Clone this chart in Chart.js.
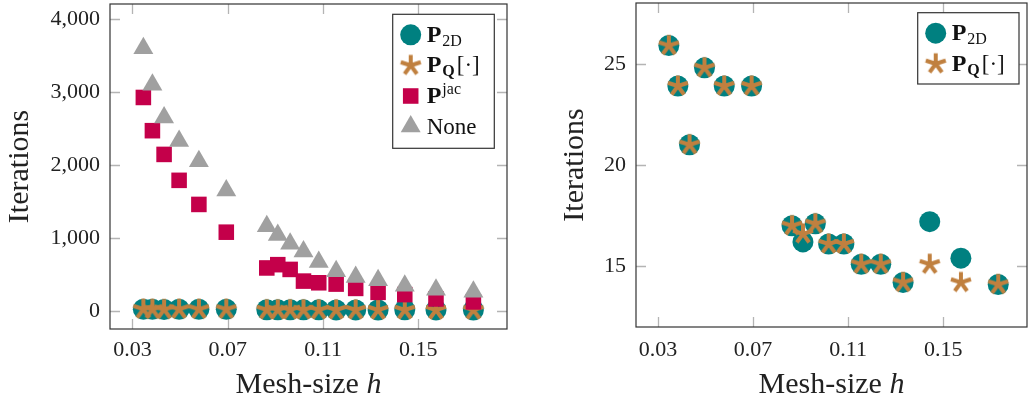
<!DOCTYPE html>
<html><head><meta charset="utf-8">
<script src="https://cdn.jsdelivr.net/npm/chart.js@4"></script>
<style>
html,body{margin:0;padding:0;background:#fff;}
#wrap{position:relative;width:1028px;height:401px;overflow:hidden;}
canvas{position:absolute;top:0;}
#c1{left:0}
#c2{left:514px}
</style></head><body>
<div id="wrap"><canvas id="c1" width="514" height="401"></canvas><canvas id="c2" width="514" height="401"></canvas></div>
<script>
// ---- data ----
const meshSize = [0.0346, 0.0384, 0.0433, 0.0496, 0.0579, 0.0694, 0.0864, 0.0910, 0.0962, 0.1018, 0.1082, 0.1155, 0.1237, 0.1331, 0.1443, 0.1574, 0.1731];
const itP2D  = [25.9, 23.9, 21.0, 24.8, 23.9, 23.9, 17.0, 16.2, 17.1, 16.1, 16.1, 15.1, 15.1, 14.2, 17.2, 15.4, 14.1];
const itPQ   = [25.9, 23.9, 21.0, 24.8, 23.9, 23.9, 17.0, 16.6, 17.1, 16.1, 16.1, 15.1, 15.1, 14.2, 15.1, 14.2, 14.1];
const itPjac = [2925, 2470, 2145, 1790, 1460, 1080, 590, 635, 570, 410, 387, 369, 310, 256, 225, 165, 125];
const itNone = [3600, 3100, 2650, 2330, 2050, 1650, 1160, 1040, 920, 815, 670, 545, 465, 420, 345, 290, 265];
const xTickValues = [0.03, 0.07, 0.11, 0.15];
const yTicksLeft = [0, 1000, 2000, 3000, 4000];
const yTicksRight = [15, 20, 25];
const xTitle = 'Mesh-size ';
const xTitleVar = 'h';
const yTitle = 'Iterations';

// ---- styles ----
const FONT = '"Liberation Serif", "Times New Roman", serif';
const TEAL = '#008080', STARC = '#C0803F', JAC = '#C4004A', GRAY = '#A0A0A0';
Chart.defaults.font.family = FONT;
Chart.defaults.color = '#222';

function makeStar(color){
  const c = document.createElement('canvas'); c.width = 26; c.height = 26;
  const g = c.getContext('2d'); g.strokeStyle = color; g.lineWidth = 4; g.lineCap = 'butt';
  g.beginPath();
  for (let k = 0; k < 5; k++) {
    const a = -Math.PI/2 + k*2*Math.PI/5;
    g.moveTo(13, 13); g.lineTo(13 + 10.5*Math.cos(a), 13 + 10.5*Math.sin(a));
  }
  g.stroke();
  return c;
}
const starImg = makeStar(STARC);
const pts = ys => meshSize.map((h, i) => ({x: h, y: ys[i]}));

const dsP2D  = () => ({label:'P2D', data: pts(itP2D), pointStyle:'circle', pointRadius:10.5, backgroundColor:TEAL, borderWidth:0, order:4, clip:false});
const dsPQ   = () => ({label:'PQ', data: pts(itPQ), pointStyle:starImg, pointRadius:10, backgroundColor:STARC, borderWidth:0, order:3, clip:false});
const dsPjac = () => ({label:'Pjac', data: pts(itPjac), pointStyle:'rect', pointRadius:11, backgroundColor:JAC, borderWidth:0, order:2, clip:false});
const dsNone = () => ({label:'None', data: pts(itNone), pointStyle:'triangle', pointRadius:11.5, backgroundColor:GRAY, borderWidth:0, order:1, clip:false});

// frame + inward tick marks
const framePlugin = {
  id: 'frame',
  beforeDatasetsDraw(chart){
    const {ctx, chartArea: a, scales: {x, y}} = chart;
    ctx.save(); ctx.strokeStyle = '#b4b4b4'; ctx.lineWidth = 1.3; ctx.beginPath();
    x.ticks.forEach(t => { const p = Math.round(x.getPixelForValue(t.value)) + 0.5;
      ctx.moveTo(p, a.bottom); ctx.lineTo(p, a.bottom - 10); ctx.moveTo(p, a.top); ctx.lineTo(p, a.top + 10); });
    y.ticks.forEach(t => { const p = Math.round(y.getPixelForValue(t.value)) + 0.5;
      ctx.moveTo(a.left, p); ctx.lineTo(a.left + 10, p); ctx.moveTo(a.right, p); ctx.lineTo(a.right - 10, p); });
    ctx.stroke(); ctx.restore();
  },
  afterDatasetsDraw(chart){
    const {ctx, chartArea: a} = chart;
    ctx.save(); ctx.strokeStyle = '#333'; ctx.lineWidth = 1.2;
    ctx.strokeRect(a.left, a.top, a.right - a.left, a.bottom - a.top);
    ctx.restore();
  }
};

// x-axis title with italic variable
const xTitlePlugin = {
  id: 'xTitleTex',
  afterDraw(chart){
    const {ctx, chartArea: a} = chart;
    ctx.save(); ctx.fillStyle = '#222'; ctx.textBaseline = 'alphabetic';
    ctx.font = '30px ' + FONT; const w1 = ctx.measureText(xTitle).width;
    ctx.font = 'italic 30px ' + FONT; const w2 = ctx.measureText(xTitleVar).width;
    const x0 = (a.left + a.right)/2 - (w1 + w2)/2, yb = chart.height - 8;
    ctx.font = '30px ' + FONT; ctx.fillText(xTitle, x0, yb);
    ctx.font = 'italic 30px ' + FONT; ctx.fillText(xTitleVar, x0 + w1, yb);
    ctx.restore();
  }
};

// legend with sub/superscripts
const texLegend = {
  id: 'texLegend',
  afterDraw(chart, args, o){
    if (!o || !o.items) return;
    const {ctx, chartArea: a} = chart;
    const x0 = a.right - o.right - o.width, y0 = a.top + o.top;
    ctx.save();
    ctx.fillStyle = '#fff'; ctx.fillRect(x0, y0, o.width, o.height);
    ctx.strokeStyle = '#333'; ctx.lineWidth = 1.2; ctx.strokeRect(x0, y0, o.width, o.height);
    o.items.forEach((it, i) => {
      const ds = chart.data.datasets.find(d => d.label === it.label);
      const cy = y0 + 20.5 + i*30.6, mx = x0 + 18;
      if (typeof ds.pointStyle === 'object') {
        ctx.drawImage(ds.pointStyle, mx - ds.pointStyle.width/2, cy - ds.pointStyle.height/2);
      } else {
        ctx.fillStyle = ds.backgroundColor;
        Chart.helpers.drawPoint(ctx, {pointStyle: ds.pointStyle, radius: ds.pointRadius, rotation: 0, borderWidth: 0}, mx, cy);
      }
      let tx = x0 + 34; const base = cy + 7;
      ctx.fillStyle = '#111'; ctx.textBaseline = 'alphabetic';
      it.parts.forEach(p => {
        ctx.font = (p.b ? 'bold ' : '') + p.s + 'px ' + FONT;
        ctx.fillText(p.t, tx, base + (p.dy || 0));
        tx += ctx.measureText(p.t).width + (p.gap || 0);
      });
    });
    ctx.restore();
  }
};

const legendP2D  = {label:'P2D', parts:[{t:'P', b:1, s:24, gap:1}, {t:'2D', s:16, dy:4}]};
const legendPQ   = {label:'PQ', parts:[{t:'P', b:1, s:24, gap:1}, {t:'Q', b:1, s:16, dy:4, gap:2}, {t:'[·]', s:23}]};
const legendPjac = {label:'Pjac', parts:[{t:'P', b:1, s:24, gap:1}, {t:'jac', s:16, dy:-9}]};
const legendNone = {label:'None', parts:[{t:'None', s:23}]};

function zeroPad(s){ s.paddingTop = 0; s.paddingBottom = 0; s.paddingLeft = 0; s.paddingRight = 0; }

function makeChart(id, datasets, cfg){
  return new Chart(document.getElementById(id), {
    type: 'scatter',
    data: {datasets},
    options: {
      responsive: false, animation: false, devicePixelRatio: 1,
      layout: {padding: cfg.pad, autoPadding: false},
      plugins: {legend: {display: false}, tooltip: {enabled: false}, texLegend: cfg.legend},
      scales: {
        x: {
          type: 'linear', min: cfg.xmin, max: cfg.xmax,
          afterBuildTicks: s => { s.ticks = xTickValues.map(v => ({value: v})); },
          ticks: {padding: cfg.xpad, maxRotation: 0, autoSkip: false, font: {size: 22}, color: '#222', callback: v => Number(v).toFixed(2)},
          grid: {display: false, drawTicks: false}, border: {display: false},
          afterFit: s => { s.height = cfg.xh; zeroPad(s); }
        },
        y: {
          type: 'linear', min: cfg.ymin, max: cfg.ymax,
          afterBuildTicks: s => { s.ticks = cfg.yticks.map(v => ({value: v})); },
          ticks: {padding: 10, font: {size: 22}, color: '#222', callback: v => Number(v).toLocaleString('en-US')},
          grid: {display: false, drawTicks: false}, border: {display: false},
          title: {display: true, text: yTitle, font: {size: 30}, color: '#222', padding: {top: cfg.ytp, bottom: 0}},
          afterFit: s => { s.width = cfg.yw; zeroPad(s); }
        }
      }
    },
    plugins: [framePlugin, xTitlePlugin, texLegend]
  });
}

makeChart('c1', [dsP2D(), dsPQ(), dsPjac(), dsNone()], {
  pad: {left: 0, right: 7, top: 4, bottom: 0},
  xmin: 0.0206, xmax: 0.1872, xpad: 8, xh: 72,
  ymin: -246, ymax: 4205, yticks: yTicksLeft, yw: 110, ytp: 2,
  legend: {items: [legendP2D, legendPQ, legendPjac, legendNone], right: 12.7, top: 10.3, width: 101.6, height: 134}
});

makeChart('c2', [dsP2D(), dsPQ()], {
  pad: {left: 0, right: 1, top: 3, bottom: 0},
  xmin: 0.0208, xmax: 0.1852, xpad: 10, xh: 74,
  ymin: 12, ymax: 28, yticks: yTicksRight, yw: 122, ytp: 43,
  legend: {items: [legendP2D, legendPQ], right: 8, top: 9.7, width: 101.3, height: 71.3}
});
</script>
</body></html>
